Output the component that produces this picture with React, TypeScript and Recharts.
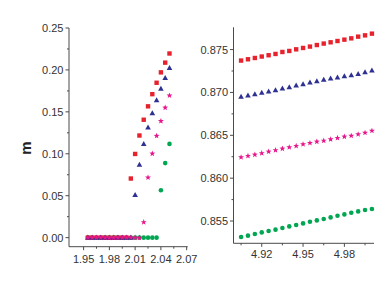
import React from "react";
import { ScatterChart, Scatter, XAxis, YAxis } from "recharts";

// left panel: m near the transition
const xLeft = [
  1.955, 1.96, 1.965, 1.97, 1.975, 1.98, 1.985, 1.99, 1.995, 2.0,
  2.005, 2.01, 2.015, 2.02, 2.025, 2.03, 2.035, 2.04, 2.045, 2.05,
];
const redLeft = [
  0, 0, 0, 0, 0, 0, 0, 0, 0, 0,
  0.0705, 0.0998, 0.1218, 0.1406, 0.1566, 0.1711, 0.1847, 0.1971, 0.2087, 0.2196,
];
const blueLeft = [
  0, 0, 0, 0, 0, 0, 0, 0, 0, 0,
  0, 0.0509, 0.0869, 0.1118, 0.1314, 0.1482, 0.1639, 0.1775, 0.1903, 0.2023,
];
const pinkLeft = [
  0, 0, 0, 0, 0, 0, 0, 0, 0, 0,
  0, 0, 0, 0.0184, 0.0717, 0.1002, 0.1214, 0.139, 0.155, 0.1695,
];
const greenLeft = [
  0, 0, 0, 0, 0, 0, 0, 0, 0, 0,
  0, 0, 0, 0, 0, 0, 0, 0.0565, 0.0889, 0.1118,
];

// right panel: m at large x
const xRight = [
  4.905, 4.91, 4.915, 4.92, 4.925, 4.93, 4.935, 4.94, 4.945, 4.95,
  4.955, 4.96, 4.965, 4.97, 4.975, 4.98, 4.985, 4.99, 4.995, 5.0,
];
const redRight = [
  0.87372, 0.87387, 0.87402, 0.87419, 0.87434, 0.87449, 0.87472, 0.87484, 0.87503, 0.87519,
  0.87535, 0.87553, 0.8757, 0.87585, 0.876, 0.87616, 0.87631, 0.87651, 0.87666, 0.87686,
];
const blueRight = [
  0.86949, 0.86965, 0.8698, 0.86995, 0.87012, 0.87027, 0.87047, 0.87062, 0.87081, 0.87097,
  0.87116, 0.87131, 0.87147, 0.87163, 0.87174, 0.8719, 0.87201, 0.87216, 0.87236, 0.87256,
];
const pinkRight = [
  0.86244, 0.86259, 0.86274, 0.86291, 0.8631, 0.86326, 0.86344, 0.8636, 0.86376, 0.86395,
  0.8641, 0.86426, 0.86437, 0.86453, 0.86469, 0.86484, 0.86495, 0.86512, 0.8653, 0.86553,
];
const greenRight = [
  0.85314, 0.85329, 0.85349, 0.85367, 0.85384, 0.85399, 0.85419, 0.85437, 0.85453, 0.85472,
  0.85492, 0.85507, 0.85523, 0.85542, 0.85562, 0.85577, 0.85597, 0.85612, 0.85628, 0.8564,
];

const leftXMajor = [1.95, 1.98, 2.01, 2.04, 2.07];
const leftXMinor = [1.965, 1.995, 2.025, 2.055];
const leftYMajor = [0, 0.05, 0.1, 0.15, 0.2, 0.25];
const leftYMinor = [0.025, 0.075, 0.125, 0.175, 0.225];
const rightXMajor = [4.92, 4.95, 4.98];
const rightXMinor = [4.905, 4.935, 4.965, 4.995];
const rightYMajor = [0.855, 0.86, 0.865, 0.87, 0.875];
const rightYMinor = [0.8575, 0.8625, 0.8675, 0.8725];

const RED = "#e8222d";
const BLUE = "#2e3192";
const PINK = "#e8168c";
const GREEN = "#00a651";
const AXIS = "#4a4a4a";
const TEXT = "#333";
const FONT = "'Liberation Sans', Arial, sans-serif";

const pts = (xs: number[], ys: number[]) => xs.map((x, i) => ({ x, y: ys[i] }));

const isIn = (v: number, list: number[]) => list.some((m) => Math.abs(m - v) < 1e-6);

const square = (color: string) => (p: any) => (
  <rect x={p.cx - 2.2} y={p.cy - 2.2} width={4.4} height={4.4} fill={color} />
);
const triangle = (color: string) => (p: any) => (
  <polygon
    points={`${p.cx},${p.cy - 3} ${p.cx - 2.8},${p.cy + 2} ${p.cx + 2.8},${p.cy + 2}`}
    fill={color}
  />
);
const star = (color: string) => (p: any) => {
  const pts: string[] = [];
  for (let i = 0; i < 10; i++) {
    const r = i % 2 === 0 ? 3.1 : 1.3;
    const a = -Math.PI / 2 + (i * Math.PI) / 5;
    pts.push(`${p.cx + r * Math.cos(a)},${p.cy + r * Math.sin(a)}`);
  }
  return <polygon points={pts.join(" ")} fill={color} />;
};
const dot = (color: string) => (p: any) => <circle cx={p.cx} cy={p.cy} r={2.3} fill={color} />;

const makeYTick = (major: number[], digits: number) => (p: any) => {
  const v = p.payload.value;
  const big = isIn(v, major);
  return (
    <g>
      <line x1={p.x} x2={p.x - (big ? 3.5 : 2)} y1={p.y} y2={p.y} stroke={AXIS} />
      {big && (
        <text x={p.x - 5.5} y={p.y} dy="0.36em" textAnchor="end" fontSize={11} fill={TEXT} fontFamily={FONT}>
          {v.toFixed(digits)}
        </text>
      )}
    </g>
  );
};

const makeXTick = (major: number[], dy: number) => (p: any) => {
  const v = p.payload.value;
  const big = isIn(v, major);
  return (
    <g>
      <line x1={p.x} x2={p.x} y1={p.y} y2={p.y + (big ? 3.5 : 2)} stroke={AXIS} />
      {big && (
        <text x={p.x} y={p.y + dy} textAnchor="middle" fontSize={11} fill={TEXT} fontFamily={FONT}>
          {v.toFixed(2)}
        </text>
      )}
    </g>
  );
};

const mLabel = (props: any) => {
  const vb = props.viewBox;
  return (
    <text
      x={vb.x + 25}
      y={148}
      transform={`rotate(-90, ${vb.x + 25}, 148)`}
      textAnchor="middle"
      dominantBaseline="central"
      fontSize={15}
      fontWeight="bold"
      fill="#222"
      fontFamily={FONT}
    >
      m
    </text>
  );
};

export default function App() {
  return (
    <div style={{ position: "absolute", left: 0, top: 0, width: 390, height: 291, background: "#fff" }}>
      <div style={{ position: "absolute", left: 0, top: 0 }}>
        <ScatterChart width={215} height={291} margin={{ top: 28, right: 27.3, bottom: 14.3, left: 0 }}>
          <XAxis
            type="number"
            dataKey="x"
            domain={[1.933, 2.0712]}
            ticks={[...leftXMajor, ...leftXMinor]}
            interval={0}
            tickSize={0}
            tickMargin={0}
            height={30}
            stroke={AXIS}
            tick={makeXTick(leftXMajor, 16.3)}
          />
          <YAxis
            type="number"
            dataKey="y"
            domain={[-0.0108, 0.25]}
            ticks={[...leftYMajor, ...leftYMinor]}
            interval={0}
            tickSize={0}
            tickMargin={0}
            width={69}
            stroke={AXIS}
            tick={makeYTick(leftYMajor, 2)}
            label={{ value: "m", content: mLabel }}
          />
          <Scatter data={pts(xLeft, greenLeft)} shape={dot(GREEN)} isAnimationActive={false} />
          <Scatter data={pts(xLeft, redLeft)} shape={square(RED)} isAnimationActive={false} />
          <Scatter data={pts(xLeft, blueLeft)} shape={triangle(BLUE)} isAnimationActive={false} />
          <Scatter data={pts(xLeft, pinkLeft)} shape={star(PINK)} isAnimationActive={false} />
        </ScatterChart>
      </div>
      <div style={{ position: "absolute", left: 195, top: 0 }}>
        <ScatterChart width={195} height={291} margin={{ top: 27.3, right: 16, bottom: 17.7, left: 0 }}>
          <XAxis
            type="number"
            dataKey="x"
            domain={[4.8995, 5.0015]}
            ticks={[...rightXMajor, ...rightXMinor]}
            interval={0}
            tickSize={0}
            tickMargin={0}
            height={30}
            stroke={AXIS}
            tick={makeXTick(rightXMajor, 15)}
          />
          <YAxis
            type="number"
            dataKey="y"
            domain={[0.8524, 0.8776]}
            ticks={[...rightYMajor, ...rightYMinor]}
            interval={0}
            tickSize={0}
            tickMargin={0}
            width={38.5}
            stroke={AXIS}
            tick={makeYTick(rightYMajor, 3)}
          />
          <Scatter data={pts(xRight, greenRight)} shape={dot(GREEN)} isAnimationActive={false} />
          <Scatter data={pts(xRight, redRight)} shape={square(RED)} isAnimationActive={false} />
          <Scatter data={pts(xRight, blueRight)} shape={triangle(BLUE)} isAnimationActive={false} />
          <Scatter data={pts(xRight, pinkRight)} shape={star(PINK)} isAnimationActive={false} />
        </ScatterChart>
      </div>
    </div>
  );
}
